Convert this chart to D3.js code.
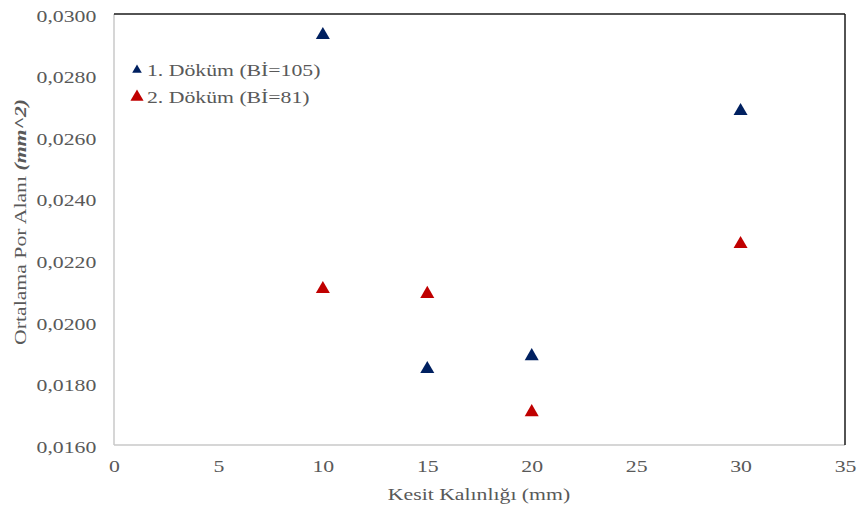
<!DOCTYPE html>
<html>
<head>
<meta charset="utf-8">
<script src="https://cdn.jsdelivr.net/npm/d3@7"></script>
<style>
  body { margin: 0; background: #fff; }
  svg text { font-family: "Liberation Serif", "Times New Roman", serif; fill: #595959; }
</style>
</head>
<body>
<svg id="chart" width="860" height="511"></svg>
<script>
// data
var xVals = [10, 15, 20, 30];
var dokum1 = [0.02935, 0.01850, 0.01892, 0.02688];
var dokum2 = [0.02110, 0.02094, 0.01710, 0.02256];
var seriesNames = ["1. Döküm (Bİ=105)", "2. Döküm (Bİ=81)"];
var seriesColors = ["#002060", "#C00000"];
var xTicks = [0, 5, 10, 15, 20, 25, 30, 35];
var yTicks = [0.016, 0.018, 0.020, 0.022, 0.024, 0.026, 0.028, 0.030];

var pL = 114, pR = 845, pT = 14, pB = 445;
var sx = 1.36; // text in the picture is drawn wide

var svg = d3.select("#chart");
var x = d3.scaleLinear().domain([0, 35]).range([pL, pR]);
var y = d3.scaleLinear().domain([0.016, 0.030]).range([pB, pT]);

// frame : left & bottom gray, top & right dark
svg.append("line").attr("x1", pL).attr("x2", pL).attr("y1", pT).attr("y2", pB)
  .attr("stroke", "#c8c8c8").attr("stroke-width", 1.5);
svg.append("line").attr("x1", pL).attr("x2", pR).attr("y1", pB).attr("y2", pB)
  .attr("stroke", "#c8c8c8").attr("stroke-width", 1.5);
svg.append("line").attr("x1", pL).attr("x2", pR).attr("y1", pT).attr("y2", pT)
  .attr("stroke", "#1a1a1a").attr("stroke-width", 1.5);
svg.append("line").attr("x1", pR).attr("x2", pR).attr("y1", pT).attr("y2", pB)
  .attr("stroke", "#1a1a1a").attr("stroke-width", 1.5);

// axes via d3 axis, lines hidden
var fmt = function(d) { return d3.format(".4f")(d).replace(".", ","); };
var gx = svg.append("g").attr("transform", "translate(0," + pB + ")")
  .call(d3.axisBottom(x).tickValues(xTicks).tickSize(0).tickPadding(16));
gx.select(".domain").remove();
gx.selectAll("text").attr("font-size", 16).attr("fill", "#595959")
  .attr("transform", "scale(" + sx + ",1)")
  .style("font-family", "'Liberation Serif', serif");

var gy = svg.append("g").attr("transform", "translate(" + pL + ",0)")
  .call(d3.axisLeft(y).tickValues(yTicks).tickFormat(fmt).tickSize(0).tickPadding(13));
gy.select(".domain").remove();
gy.selectAll("text").attr("font-size", 16).attr("fill", "#595959")
  .attr("dy", "0.45em")
  .attr("transform", "scale(" + sx + ",1)")
  .style("font-family", "'Liberation Serif', serif");

// axis titles
svg.append("text").attr("transform", "translate(479,500) scale(" + sx + ",1)")
  .attr("text-anchor", "middle").attr("font-size", 16).text("Kesit Kalınlığı (mm)");

var yt = svg.append("text").attr("transform", "translate(26,222) rotate(-90) scale(" + sx + ",1)")
  .attr("text-anchor", "middle").attr("font-size", 16);
yt.append("tspan").text("Ortalama Por Alanı ");
yt.append("tspan").attr("font-weight", "bold").attr("font-style", "italic").text("(mm^2)");

// markers
var tri = d3.symbol().type(d3.symbolTriangle).size(85);
[dokum1, dokum2].forEach(function(vals, s) {
  svg.append("g").selectAll("path")
    .data(vals)
    .enter().append("path")
    .attr("d", tri)
    .attr("transform", function(d, i) { return "translate(" + x(xVals[i]) + "," + (y(d) + 1) + ")"; })
    .attr("fill", seriesColors[s]);
});

// legend
var legSizes = [40, 75];
seriesNames.forEach(function(name, i) {
  var ly = 70 + i * 27;
  svg.append("path").attr("d", d3.symbol().type(d3.symbolTriangle).size(legSizes[i]))
    .attr("transform", "translate(137," + ly + ")").attr("fill", seriesColors[i]);
  svg.append("text").attr("transform", "translate(147," + (ly + 6) + ") scale(" + sx + ",1)")
    .attr("font-size", 16).text(name);
});
</script>
</body>
</html>
